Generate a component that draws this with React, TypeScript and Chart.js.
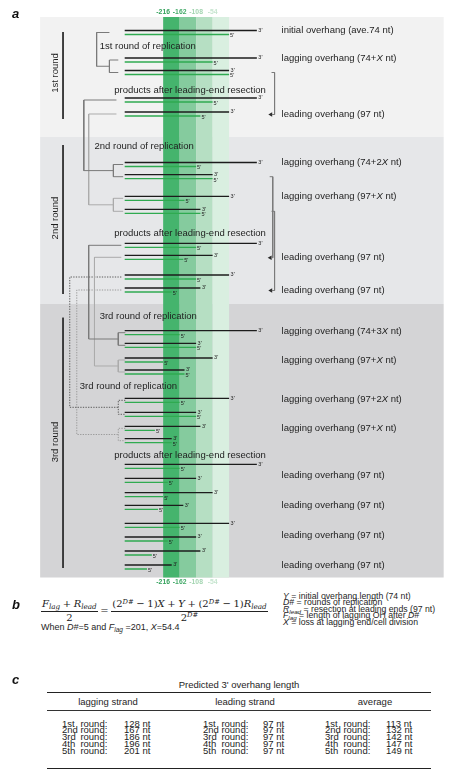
import React, { useEffect, useRef } from 'react';
import { Chart, registerables } from 'chart.js';

Chart.register(...registerables);

const SANS = '"Liberation Sans", Arial, Helvetica, sans-serif';
const MATH = '"DejaVu Serif", "Liberation Serif", serif';
const INK = '#1e1e1e';

// ---------- panel a : x in nucleotides (0 = right edge of the -54 band) ----------
const X_MIN = -742;
const X_MAX = 784;
const Y_MIN = 17;
const Y_MAX = 577.5;

const BAND_TICKS = [-216, -162, -108, -54];
const BAND_EDGES = [-216, -162, -108, -54, 0];
const BAND_COLORS = ['#45b46d', '#85cb9e', '#b6dfc3', '#d9efe0'];
const TICK_COLORS = ['#34a25c', '#45ab6a', '#a3d5b1', '#c6e5cf'];

const ROUND_LABELS = ['1st round', '2nd round', '3rd round'];
const ROUND_BG_EDGES = [17, 137, 304, 577.5];
const ROUND_BG_COLORS = ['#f2f2f2', '#e6e7e9', '#d4d4d6'];
const ROUND_BG_X = [-619, 703];
const ROUND_LINE_TOP = [32, 145, 317.7];
const ROUND_LINE_BOTTOM = [119, 294, 568];
const ROUND_LABEL_Y = [73, 218, 442];
const ROUND_LINE_X = -544;
const ROUND_LABEL_X = -570;

// strands: each row = a 3' (black) strand with a 5' (green) strand just below it
const STRAND_START = -342;
const GREEN_GAP = 4;
const ROW_Y = [30.5, 58, 70.5, 98, 112, 162.5, 174.7, 196.3, 209.3, 243.3, 255.3, 275, 288,
  330.7, 343.3, 358, 370, 398.3, 412.3, 426.3, 438.7, 464.3, 478.3, 492.7, 505.3, 523.3, 537, 551, 565];
const TOP_END = [91, 91, 0, 91, 0, 91, -54, 0, -94, 91, -54, 0, -94,
  91, -108, -54, -146, 0, -108, -94, -188, 91, -108, -54, -150, 0, -108, -94, -188];
const BOTTOM_END = [0, -54, 0, -54, -94, -108, -54, -146, -94, -108, -150, -108, -188,
  -162, -108, -216, -146, -162, -108, -243, -188, -162, -201, -216, -233, -162, -201, -253, -269];

// replication trees: parent row -> daughter pair (child, child + 1)
const TREE_PARENT = [0, 3, 4, 9, 10, 11, 12];
const TREE_CHILD = [1, 5, 7, 13, 15, 17, 19];
const TREE_STEM_X = [-434, -476, -460, -460, -441, -522, -499];
const TREE_FROM_X = [-392, -369, -369, -353, -353, -353, -353];
const TREE_FORK_X = [-392, -379, -379, -363, -363, -363, -363];
const TREE_TO_X = [-363, -347, -347, -340, -340, -340, -340];
const TREE_STYLE = ['dark', 'dark', 'light', 'dark', 'light', 'dotDark', 'dotLight'];

// resection brackets on the right
const BRACKET_FROM = [2, 6, 8];
const BRACKET_TO = [4, 10, 12];
const BRACKET_TICK_X = [139, 133, 139];
const BRACKET_X = [149, 143, 149];
const ARROW_X = [137, 135, 137];

const RIGHT_LABELS = [
  'initial overhang (ave.74 nt)', 'lagging overhang (74+X nt)', 'leading overhang (97 nt)',
  'lagging overhang (74+2X nt)', 'lagging overhang (97+X nt)', 'leading overhang (97 nt)',
  'leading overhang (97 nt)', 'lagging overhang (74+3X nt)', 'lagging overhang (97+X nt)',
  'lagging overhang (97+2X nt)', 'lagging overhang (97+X nt)', 'leading overhang (97 nt)',
  'leading overhang (97 nt)', 'leading overhang (97 nt)', 'leading overhang (97 nt)',
];
const RIGHT_LABEL_Y = [30.5, 58.5, 114.5, 162.5, 196.5, 257.5, 290.5, 331, 360.5, 399.5, 428.5, 475, 505, 535.7, 565.7];
const RIGHT_LABEL_X = 172;

const STEP_LABELS = [
  '1st round of replication', 'products after leading-end resection', '2nd round of replication',
  'products after leading-end resection', '3rd round of replication', '3rd round of replication',
  'products after leading-end resection',
];
const STEP_X = [-424, -376, -441, -376, -424, -489, -376];
const STEP_Y = [46, 90, 146, 233.7, 316, 386, 455.7];

// ---------- panel c ----------
const ROUND_ORD = ['1st', '2nd', '3rd', '4th', '5th'];
const TABLE_HEADERS = ['lagging strand', 'leading strand', 'average'];
const LAGGING_NT = [128, 167, 186, 196, 201];
const LEADING_NT = [97, 97, 97, 97, 97];
const AVERAGE_NT = [113, 132, 142, 147, 149];

const TREE_COLORS: Record<string, string> = { dark: '#7a7a7a', light: '#ababab', dotDark: '#5a5a5a', dotLight: '#9a9a9a' };

type P = { x: number; y: number };

function lineDs(pts: P[], color: string, width: number, dash: number[] = []) {
  return {
    data: pts,
    showLine: true,
    borderColor: color,
    backgroundColor: color,
    borderWidth: width,
    borderDash: dash,
    pointRadius: 0,
    pointHoverRadius: 0,
    tension: 0,
    borderCapStyle: 'butt',
  };
}

function buildDatasets() {
  const ds: any[] = [];
  ROW_Y.forEach((y, i) => {
    ds.push(lineDs([{ x: STRAND_START, y }, { x: TOP_END[i], y }], '#1c1c1c', 1.3));
    ds.push(lineDs([{ x: STRAND_START, y: y + GREEN_GAP }, { x: BOTTOM_END[i], y: y + GREEN_GAP }], '#2faa50', 1.3));
  });
  TREE_PARENT.forEach((p, k) => {
    const yp = ROW_Y[p] + GREEN_GAP / 2;
    const c = TREE_CHILD[k];
    const y1 = ROW_Y[c] + GREEN_GAP / 2;
    const y2 = ROW_Y[c + 1] + GREEN_GAP / 2;
    const ym = (y1 + y2) / 2;
    const style = TREE_STYLE[k];
    const dash = style.startsWith('dot') ? [1.3, 1.3] : [];
    const col = TREE_COLORS[style];
    ds.push(lineDs([
      { x: TREE_FROM_X[k], y: yp }, { x: TREE_STEM_X[k], y: yp },
      { x: TREE_STEM_X[k], y: ym }, { x: TREE_FORK_X[k], y: ym },
    ], col, 1, dash));
    ds.push(lineDs([
      { x: TREE_TO_X[k], y: y1 }, { x: TREE_FORK_X[k], y: y1 },
      { x: TREE_FORK_X[k], y: y2 }, { x: TREE_TO_X[k], y: y2 },
    ], col, 1, dash));
  });
  BRACKET_FROM.forEach((f, k) => {
    const yf = ROW_Y[f] + GREEN_GAP / 2;
    const yt = ROW_Y[BRACKET_TO[k]] + GREEN_GAP / 2 + 0.5;
    ds.push(lineDs([
      { x: BRACKET_TICK_X[k], y: yf }, { x: BRACKET_X[k], y: yf },
      { x: BRACKET_X[k], y: yt }, { x: ARROW_X[k] + 3, y: yt },
    ], '#7a7a7a', 1));
    ds.push({
      data: [{ x: ARROW_X[k], y: yt }],
      showLine: false,
      pointStyle: 'triangle',
      rotation: -90,
      pointRadius: 2.6,
      pointHoverRadius: 2.6,
      backgroundColor: '#2a2a2a',
      borderColor: '#2a2a2a',
      borderWidth: 0,
    });
  });
  ROUND_LINE_TOP.forEach((t, k) => {
    ds.push(lineDs([{ x: ROUND_LINE_X, y: t }, { x: ROUND_LINE_X, y: ROUND_LINE_BOTTOM[k] }], '#2a2a2a', 1));
  });
  return ds;
}

function drawRich(ctx: CanvasRenderingContext2D, text: string, x: number, y: number, size: number) {
  const parts = text.split('X');
  let cx = x;
  parts.forEach((p, i) => {
    ctx.font = `${size}px ${SANS}`;
    ctx.fillText(p, cx, y);
    cx += ctx.measureText(p).width;
    if (i < parts.length - 1) {
      ctx.font = `italic ${size}px ${SANS}`;
      ctx.fillText('X', cx, y);
      cx += ctx.measureText('X').width;
    }
  });
}

const backgroundPlugin = {
  id: 'panelBackground',
  beforeDatasetsDraw(chart: any) {
    const { ctx, chartArea, scales } = chart;
    const X = (v: number) => scales.x.getPixelForValue(v);
    const Y = (v: number) => scales.y.getPixelForValue(v);
    ctx.save();
    ROUND_BG_COLORS.forEach((c, i) => {
      ctx.fillStyle = c;
      const y0 = Y(ROUND_BG_EDGES[i]);
      const y1 = Y(ROUND_BG_EDGES[i + 1]);
      ctx.fillRect(X(ROUND_BG_X[0]), y0, X(ROUND_BG_X[1]) - X(ROUND_BG_X[0]), y1 - y0);
    });
    BAND_COLORS.forEach((c, i) => {
      ctx.fillStyle = c;
      const x0 = X(BAND_EDGES[i]);
      const x1 = X(BAND_EDGES[i + 1]);
      ctx.fillRect(x0, chartArea.top, x1 - x0, chartArea.bottom - chartArea.top);
    });
    ctx.restore();
  },
};

const labelPlugin = {
  id: 'panelLabels',
  afterDatasetsDraw(chart: any) {
    const { ctx, scales } = chart;
    const X = (v: number) => scales.x.getPixelForValue(v);
    const Y = (v: number) => scales.y.getPixelForValue(v);
    ctx.save();
    ctx.fillStyle = INK;
    ctx.textBaseline = 'middle';
    ctx.textAlign = 'left';
    // strand end labels
    ctx.font = `5.5px ${SANS}`;
    ROW_Y.forEach((y, i) => {
      ctx.fillText("3'", X(TOP_END[i]) + 1.5, Y(y) - 0.3);
      ctx.fillText("5'", X(BOTTOM_END[i]) + 1, Y(y + GREEN_GAP) + 1.3);
    });
    // right labels
    RIGHT_LABELS.forEach((t, i) => drawRich(ctx, t, X(RIGHT_LABEL_X), Y(RIGHT_LABEL_Y[i]), 9.5));
    // step labels
    ctx.font = `9.5px ${SANS}`;
    STEP_LABELS.forEach((t, i) => ctx.fillText(t, X(STEP_X[i]), Y(STEP_Y[i])));
    // round labels
    ctx.textAlign = 'center';
    ROUND_LABELS.forEach((t, i) => {
      ctx.save();
      ctx.translate(X(ROUND_LABEL_X), Y(ROUND_LABEL_Y[i]));
      ctx.rotate(-Math.PI / 2);
      ctx.fillText(t, 0, 0);
      ctx.restore();
    });
    ctx.restore();
  },
};

function xAxis(position: 'top' | 'bottom', height: number) {
  return {
    type: 'linear',
    axis: 'x',
    position,
    min: X_MIN,
    max: X_MAX,
    afterFit: (s: any) => { s.height = height; },
    afterBuildTicks: (s: any) => { s.ticks = BAND_TICKS.map((v) => ({ value: v })); },
    grid: { display: false, drawTicks: false },
    border: { display: false },
    ticks: {
      autoSkip: false,
      maxRotation: 0,
      minRotation: 0,
      padding: 1,
      font: { family: SANS, size: 6.8, weight: 'bold' },
      color: (c: any) => TICK_COLORS[c.index] || TICK_COLORS[0],
      callback: (v: any) => String(v),
    },
  };
}

function DiagramChart() {
  const ref = useRef<HTMLCanvasElement | null>(null);
  useEffect(() => {
    if (!ref.current) return;
    const chart = new Chart(ref.current, {
      type: 'scatter',
      data: { datasets: buildDatasets() },
      options: {
        animation: false,
        responsive: false,
        events: [],
        layout: { padding: 0 },
        plugins: { legend: { display: false }, tooltip: { enabled: false } },
        scales: {
          x: xAxis('bottom', 12.5),
          x2: xAxis('top', 17),
          y: { type: 'linear', display: false, min: Y_MIN, max: Y_MAX, reverse: true },
        } as any,
      } as any,
      plugins: [backgroundPlugin, labelPlugin],
    } as any);
    return () => chart.destroy();
  }, []);
  return (
    <canvas ref={ref} width={471} height={590}
      style={{ position: 'absolute', left: 0, top: 0, width: 471, height: 590 }} />
  );
}

// ---------- HTML text helpers ----------
function T({ x, y, size = 9.5, center = false, children, style }: any) {
  return (
    <div style={{
      position: 'absolute', left: x, top: y - size / 2, fontSize: size, lineHeight: `${size}px`,
      whiteSpace: 'nowrap', fontFamily: SANS, color: INK,
      transform: center ? 'translateX(-50%)' : undefined, ...style,
    }}>{children}</div>
  );
}
const I = ({ children }: any) => <span style={{ fontStyle: 'italic' }}>{children}</span>;
const Sub = ({ children }: any) => (
  <span style={{ fontStyle: 'italic', fontSize: '72%', position: 'relative', top: '0.32em', lineHeight: 0 }}>{children}</span>
);
const Sup = ({ children }: any) => (
  <span style={{ fontStyle: 'italic', fontSize: '68%', position: 'relative', top: '-0.45em', lineHeight: 0 }}>{children}</span>
);
const Op = ({ children }: any) => <span style={{ margin: '0 2.6px' }}>{children}</span>;

function Frac({ num, den }: any) {
  return (
    <span style={{ display: 'inline-flex', flexDirection: 'column', alignItems: 'stretch', textAlign: 'center' }}>
      <span style={{ lineHeight: '10px', padding: '0 1px 1.5px', borderBottom: '0.9px solid #222' }}>{num}</span>
      <span style={{ lineHeight: '10px', paddingTop: 1 }}>{den}</span>
    </span>
  );
}

const PanelLetter = ({ ch, x, top }: any) => (
  <div style={{ position: 'absolute', left: x, top, fontFamily: SANS, fontWeight: 'bold', fontStyle: 'italic', fontSize: 13, lineHeight: '13px', color: '#111' }}>{ch}</div>
);

const DEF_Y = [596, 602.6, 609.2, 615.8, 622.4];
const TABLE_ROW_Y0 = 723.3;
const TABLE_ROW_DY = 6.8;
const COL_LEFT = [62, 203, 325];
const NUM_LEFT = [124, 263, 386];
const HEADER_CX = [108, 245, 375];

export default function App() {
  const cols = [LAGGING_NT, LEADING_NT, AVERAGE_NT];
  return (
    <div style={{ position: 'absolute', left: 0, top: 0, width: 471, height: 778, overflow: 'hidden', background: '#fff' }}>
      <DiagramChart />
      <PanelLetter ch="a" x={12} top={7.3} />
      <PanelLetter ch="b" x={12} top={598} />
      <PanelLetter ch="c" x={12} top={672.5} />

      {/* panel b */}
      <div style={{ position: 'absolute', left: 41, top: 599, display: 'flex', alignItems: 'center', fontFamily: MATH, fontSize: 10, color: '#222', whiteSpace: 'nowrap' }}>
        <Frac num={<><I>F</I><Sub>lag</Sub><Op>+</Op><I>R</I><Sub>lead</Sub></>} den={<>2</>} />
        <Op>=</Op>
        <Frac
          num={<>(2<Sup>D#</Sup><Op>−</Op>1)<I>X</I><Op>+</Op><I>Y</I><Op>+</Op>(2<Sup>D#</Sup><Op>−</Op>1)<I>R</I><Sub>lead</Sub></>}
          den={<>2<Sup>D#</Sup></>} />
      </div>
      <T x={41} y={627} size={9}>When <I>D#</I>=5 and <I>F</I><Sub>lag</Sub> =201, <I>X</I>=54.4</T>
      <T x={283} y={DEF_Y[0]} size={8.7}><I>Y</I> = initial overhang length (74 nt)</T>
      <T x={283} y={DEF_Y[1]} size={8.7}><I>D#</I> = rounds of replication</T>
      <T x={283} y={DEF_Y[2]} size={8.7}><I>R</I><Sub>lead</Sub> = resection at leading ends (97 nt)</T>
      <T x={283} y={DEF_Y[3]} size={8.7}><I>F</I><Sub>lag</Sub> = length of lagging OH after <I>D#</I></T>
      <T x={283} y={DEF_Y[4]} size={8.7}><I>X</I> = loss at lagging end/cell division</T>

      {/* panel c */}
      <T x={239} y={685} center>Predicted 3' overhang length</T>
      <div style={{ position: 'absolute', left: 47, width: 384, top: 692, height: 1.4, background: '#222' }} />
      {TABLE_HEADERS.map((h, i) => <T key={h} x={HEADER_CX[i]} y={702} center>{h}</T>)}
      <div style={{ position: 'absolute', left: 47, width: 384, top: 709.5, height: 0.9, background: '#333' }} />
      {cols.map((vals, c) => ROUND_ORD.map((o, r) => (
        <React.Fragment key={`${c}-${r}`}>
          <T x={COL_LEFT[c]} y={TABLE_ROW_Y0 + r * TABLE_ROW_DY}>{o}</T>
          <T x={COL_LEFT[c] + 18.4} y={TABLE_ROW_Y0 + r * TABLE_ROW_DY}>round:</T>
          <T x={NUM_LEFT[c]} y={TABLE_ROW_Y0 + r * TABLE_ROW_DY}>{vals[r]} nt</T>
        </React.Fragment>
      )))}
      <div style={{ position: 'absolute', left: 47, width: 384, top: 767.7, height: 1.4, background: '#222' }} />
    </div>
  );
}
